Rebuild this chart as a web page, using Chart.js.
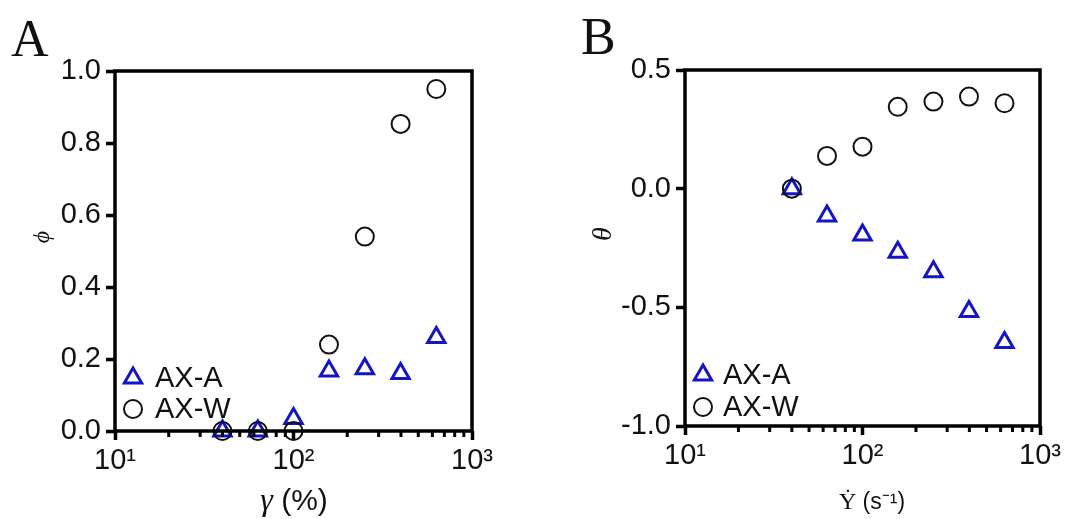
<!DOCTYPE html>
<html>
<head>
<meta charset="utf-8">
<script src="https://cdn.jsdelivr.net/npm/chart.js@4.4.0/dist/chart.umd.min.js"></script>
<style>
html, body { margin: 0; padding: 0; background: #fff; }
#wrap { position: relative; width: 1068px; height: 519px; }
.panel { position: absolute; top: 0; width: 534px; height: 519px; }
</style>
</head>
<body>
<div id="wrap">
  <div class="panel" style="left:0"><canvas id="chartA"></canvas></div>
  <div class="panel" style="left:534px"><canvas id="chartB"></canvas></div>
</div>
<script>
// data
const rates = [40, 63.1, 100, 158, 251, 398, 631];
const phiAXA = [0, 0, 0.035, 0.167, 0.173, 0.16, 0.26];
const phiAXW = [0, 0, 0, 0.24, 0.54, 0.853, 0.95];
const thetaAXA = [0, -0.115, -0.195, -0.268, -0.35, -0.518, -0.648];
const thetaAXW = [0, 0.138, 0.177, 0.345, 0.367, 0.388, 0.36];
const seriesNames = ['AX-A', 'AX-W'];

const xTicks = [10, 100, 1000];
const xTickLabels = ['10¹', '10²', '10³'];
const xMinorTicks = [20, 30, 40, 50, 60, 70, 80, 90, 200, 300, 400, 500, 600, 700, 800, 900];
const yTicksA = [0, 0.2, 0.4, 0.6, 0.8, 1.0];
const yTicksB = [-1.0, -0.5, 0, 0.5];

const SANS = '"Liberation Sans", Arial, sans-serif';
const SERIF = '"Liberation Serif", "Times New Roman", serif';
const BLUE = '#1414c8';

const triStyle = { pointStyle: 'triangle', radius: 10, borderWidth: 3, rotation: 0, color: BLUE };
const circStyle = { pointStyle: 'circle', radius: 9, borderWidth: 2, rotation: 0, color: '#111' };

function toPoints(xs, ys) {
    return xs.map((x, i) => ({ x: x, y: ys[i] }));
}

function makeDataset(label, ys, st) {
    return {
        label: label,
        data: toPoints(rates, ys),
        pointStyle: st.pointStyle,
        pointRadius: st.radius,
        pointHoverRadius: st.radius,
        pointBorderWidth: st.borderWidth,
        borderColor: st.color,
        backgroundColor: 'rgba(0,0,0,0)',
        showLine: false,
        clip: false
    };
}

function drawParts(ctx, parts, cx, baseline) {
    let total = 0;
    parts.forEach(p => { ctx.font = p.font; p.w = ctx.measureText(p.t).width; total += p.w; });
    let x = cx - total / 2;
    ctx.textAlign = 'left';
    ctx.textBaseline = 'alphabetic';
    parts.forEach(p => { ctx.font = p.font; ctx.fillText(p.t, x, baseline); x += p.w; });
}

// frame, minor ticks, legend and labels
function panelPlugin(cfg) {
    return {
        id: 'panel' + cfg.letter,
        afterDatasetsDraw(chart) {
            const { ctx, chartArea: a, scales } = chart;
            ctx.save();
            ctx.strokeStyle = '#000';
            ctx.lineWidth = 3.5;
            ctx.strokeRect(a.left, a.top, a.right - a.left, a.bottom - a.top);

            ctx.lineWidth = 3;
            ctx.beginPath();
            xMinorTicks.forEach(v => {
                const px = scales.x.getPixelForValue(v);
                ctx.moveTo(px, a.bottom);
                ctx.lineTo(px, a.bottom + 6);
            });
            ctx.stroke();

            // legend inside plot, bottom left
            const items = [
                { name: seriesNames[0], st: triStyle, y: a.bottom + cfg.legendY[0] },
                { name: seriesNames[1], st: circStyle, y: a.bottom + cfg.legendY[1] }
            ];
            items.forEach(it => {
                ctx.strokeStyle = it.st.color;
                ctx.fillStyle = 'rgba(0,0,0,0)';
                ctx.lineWidth = it.st.borderWidth;
                Chart.helpers.drawPoint(ctx, it.st, a.left + 18, it.y);
                ctx.fillStyle = '#111';
                ctx.font = '29px ' + SANS;
                ctx.textAlign = 'left';
                ctx.textBaseline = 'middle';
                ctx.fillText(it.name, a.left + cfg.legendTextX, it.y + 1);
            });

            ctx.fillStyle = '#111';
            // panel letter
            ctx.font = '52px ' + SERIF;
            ctx.textAlign = 'left';
            ctx.textBaseline = 'alphabetic';
            ctx.fillText(cfg.letter, cfg.letterPos[0], cfg.letterPos[1]);

            // x title
            drawParts(ctx, cfg.xTitle, cfg.xTitlePos[0], cfg.xTitlePos[1]);

            // y title (rotated)
            ctx.save();
            ctx.translate(cfg.yTitlePos[0], cfg.yTitlePos[1]);
            ctx.rotate(-Math.PI / 2);
            ctx.font = cfg.yTitleFont;
            ctx.textAlign = 'center';
            ctx.textBaseline = 'middle';
            ctx.fillText(cfg.yTitle, 0, 0);
            ctx.restore();

            ctx.restore();
        }
    };
}

function makeChart(id, ysA, ysW, yTicks, yMin, yMax, pad, xHeight, cfg) {
    return new Chart(document.getElementById(id), {
        type: 'scatter',
        data: {
            datasets: [
                makeDataset(seriesNames[1], ysW, circStyle),
                makeDataset(seriesNames[0], ysA, triStyle)
            ]
        },
        options: {
            responsive: true,
            maintainAspectRatio: false,
            animation: false,
            layout: { padding: pad },
            plugins: { legend: { display: false }, tooltip: { enabled: false } },
            scales: {
                x: {
                    type: 'logarithmic',
                    min: 10,
                    max: 1000,
                    afterBuildTicks: s => { s.ticks = xTicks.map(v => ({ value: v })); },
                    afterFit: s => { s.height = xHeight; },
                    ticks: {
                        callback: v => xTickLabels[xTicks.indexOf(v)],
                        font: { family: SANS, size: 29 },
                        color: '#111',
                        padding: 4,
                        maxRotation: 0,
                        autoSkip: false
                    },
                    grid: { drawOnChartArea: false, tickLength: 9, tickWidth: 3.5, tickColor: '#000' },
                    border: { display: false }
                },
                y: {
                    min: yMin,
                    max: yMax,
                    afterBuildTicks: s => { s.ticks = yTicks.map(v => ({ value: v })); },
                    afterFit: s => { s.width = pad.yWidth; },
                    ticks: {
                        callback: v => v.toFixed(1),
                        font: { family: SANS, size: 29 },
                        color: '#111',
                        padding: 5,
                        autoSkip: false
                    },
                    grid: { drawOnChartArea: false, tickLength: 9, tickWidth: 3.5, tickColor: '#000' },
                    border: { display: false }
                }
            }
        },
        plugins: [panelPlugin(cfg)]
    });
}

makeChart('chartA', phiAXA, phiAXW, yTicksA, 0, 1.0,
    { top: 71, right: 62, left: 0, bottom: 0, yWidth: 115 }, 88, {
        letter: 'A',
        letterPos: [11, 56],
        legendY: [-53, -22],
        legendTextX: 40,
        xTitle: [
            { t: 'γ', font: 'italic 32px ' + SERIF },
            { t: ' (%)', font: '30px ' + SANS }
        ],
        xTitlePos: [294, 510],
        yTitle: 'ϕ',
        yTitleFont: 'italic 24px ' + SERIF,
        yTitlePos: [43, 237]
    });

makeChart('chartB', thetaAXA, thetaAXW, yTicksB, -1.0, 0.5,
    { top: 70, right: 28, left: 0, bottom: 0, yWidth: 151 }, 93, {
        letter: 'B',
        letterPos: [47, 54],
        legendY: [-51, -19],
        legendTextX: 38,
        xTitle: [
            { t: 'Ẏ', font: '24px ' + SERIF },
            { t: ' (s⁻¹)', font: '23px ' + SANS }
        ],
        xTitlePos: [338, 509],
        yTitle: 'θ',
        yTitleFont: 'italic 28px ' + SERIF,
        yTitlePos: [70, 234]
    });
</script>
</body>
</html>
